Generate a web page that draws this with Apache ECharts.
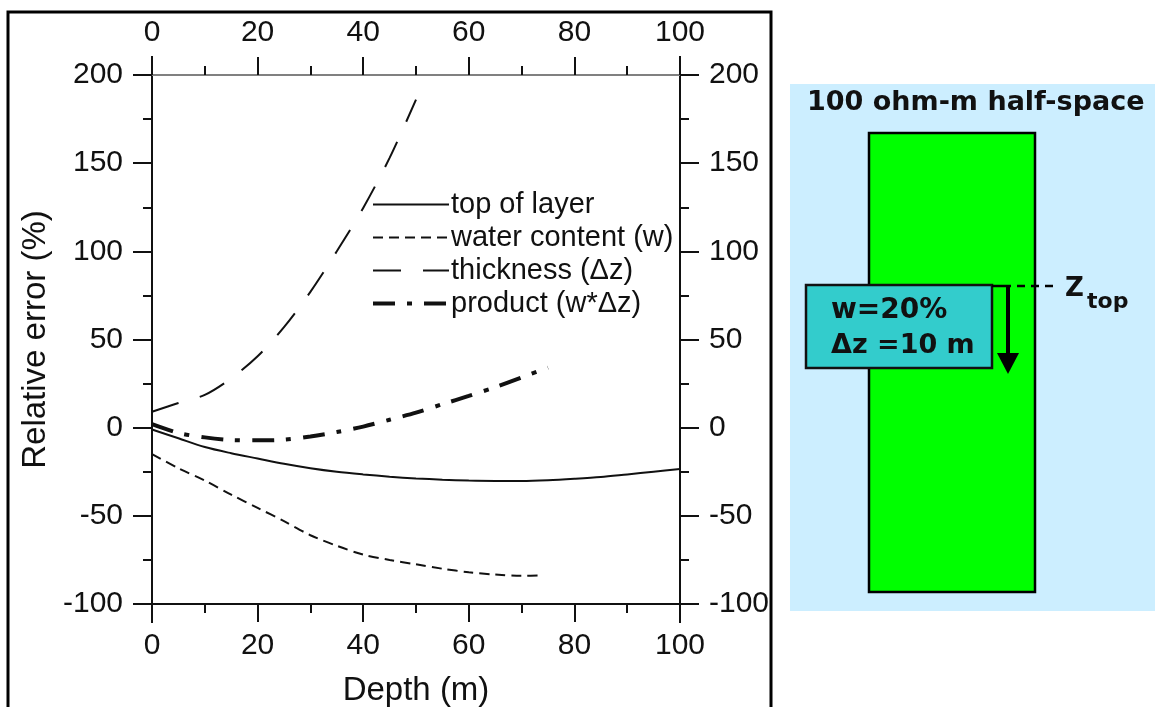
<!DOCTYPE html>
<html>
<head>
<meta charset="utf-8">
<script src="https://cdn.jsdelivr.net/npm/echarts@6/dist/echarts.min.js"></script>
<style>
html,body{margin:0;padding:0;background:#fff;}
#chart{width:1155px;height:707px;}
</style>
</head>
<body>
<div id="chart"></div>
<script>
// ---- data ----
const seriesNames = ['top of layer', 'water content (w)', 'thickness (\u0394z)', 'product (w*\u0394z)'];

const depthTop = [0, 5, 10, 15, 20, 25, 30, 35, 40, 45, 50, 55, 60, 65, 70, 75, 80, 85, 90, 95, 100];
const errTop   = [-1, -6, -11, -14.5, -17.5, -20.5, -23, -25, -26.5, -27.8, -28.8, -29.5, -30, -30.2, -30.2, -29.8, -29, -28, -26.5, -25, -23.5];

const depthWater = [0, 5, 10, 15, 20, 25, 30, 35, 40, 45, 50, 55, 60, 65, 70, 74];
const errWater   = [-15, -23, -30, -38, -45.5, -53, -61, -67, -72, -75, -77.5, -80, -82, -83.3, -84, -83.7];

const depthThick = [0, 5, 10, 15, 20, 25, 30, 35, 40, 45, 50];
const errThick   = [9, 14, 18.6, 28, 40.5, 57, 77, 100, 124.6, 153, 186];

const depthProd = [0, 5, 10, 15, 20, 25, 30, 35, 40, 45, 50, 55, 60, 65, 70, 75];
const errProd   = [2, -3, -5.5, -7, -7.2, -6.8, -5, -2.5, 0.6, 4.5, 8.5, 13.3, 18, 23, 28.5, 34];

const xTicks = {min: 0, max: 100, step: 20};
const yTicks = {min: -100, max: 200, step: 50};

// ---- chart ----
const zip = (xs, ys) => xs.map((x, i) => [x, ys[i]]);
const FONT = "'Liberation Sans', Arial, sans-serif";
const DIA = "'DejaVu Sans', Verdana, sans-serif";
const INK = '#111';

function xAxisCfg(pos) {
  return {
    type: 'value', position: pos, gridIndex: 0,
    min: xTicks.min, max: xTicks.max, interval: xTicks.step,
    axisLine: {show: true, onZero: false, lineStyle: {color: pos === 'top' ? '#808080' : INK, width: 2}},
    axisTick: {show: true, inside: false, length: 18, lineStyle: {color: INK, width: 2}},
    minorTick: {show: true, splitNumber: 2, length: 9, lineStyle: {color: INK, width: 2}},
    splitLine: {show: false},
    axisLabel: {fontSize: 30, color: INK, fontFamily: FONT, margin: 27},
    name: pos === 'bottom' ? 'Depth (m)' : '',
    nameLocation: 'middle', nameGap: 70,
    nameTextStyle: {fontSize: 33, color: INK, fontFamily: FONT}
  };
}
function yAxisCfg(pos) {
  return {
    type: 'value', position: pos, gridIndex: 0,
    min: yTicks.min, max: yTicks.max, interval: yTicks.step,
    axisLine: {show: true, onZero: false, lineStyle: {color: INK, width: 2}},
    axisTick: {show: true, inside: false, length: 19, lineStyle: {color: INK, width: 2}},
    minorTick: {show: true, splitNumber: 2, length: 9, lineStyle: {color: INK, width: 2}},
    splitLine: {show: false},
    axisLabel: {fontSize: 30, color: INK, fontFamily: FONT, margin: 29},
    name: pos === 'left' ? 'Relative error (%)' : '',
    nameLocation: 'middle', nameGap: 100,
    nameTextStyle: {fontSize: 33, color: INK, fontFamily: FONT}
  };
}

const lineStyles = [
  {color: INK, width: 2, type: 'solid'},
  {color: INK, width: 2, type: [10, 6]},
  {color: INK, width: 2, type: [28, 22]},
  {color: INK, width: 4, type: [22, 12, 5, 12]}
];
const datasets = [zip(depthTop, errTop), zip(depthWater, errWater), zip(depthThick, errThick), zip(depthProd, errProd)];

const chart = echarts.init(document.getElementById('chart'), null, {renderer: 'canvas'});

const option = {
  backgroundColor: '#fff',
  animation: false,
  grid: {left: 152, right: 475, top: 75, bottom: 103, containLabel: false, outerBoundsMode: 'none'},
  xAxis: [xAxisCfg('bottom'), xAxisCfg('top')],
  yAxis: [yAxisCfg('left'), yAxisCfg('right')],
  legend: {
    orient: 'vertical', left: 366, top: 185,
    itemWidth: 76, itemHeight: 14, itemGap: 4,
    selectedMode: false,
    itemStyle: {opacity: 0, color: 'transparent', borderWidth: 0},
    textStyle: {fontSize: 29, color: INK, fontFamily: FONT, padding: [0, 0, 0, -3]},
    data: seriesNames.map((n, i) => ({name: n, lineStyle: Object.assign({cap: 'butt'}, lineStyles[i]), itemStyle: {opacity: 0, color: 'transparent', borderWidth: 0}}))
  },
  series: seriesNames.map((n, i) => ({
    name: n, type: 'line', xAxisIndex: 0, yAxisIndex: 0,
    data: datasets[i], symbol: 'none', smooth: 0.3,
    lineStyle: Object.assign({cap: 'butt'}, lineStyles[i]),
    itemStyle: {color: INK}
  }))
};
chart.setOption(option);

// decorative axis-line extensions and the right-hand diagram
const p0 = chart.convertToPixel({gridIndex: 0}, [xTicks.min, yTicks.min]);
const p1 = chart.convertToPixel({gridIndex: 0}, [xTicks.max, yTicks.max]);
const ext = 19;
const gline = (x1, y1, x2, y2, color, w) => ({type: 'line', silent: true, shape: {x1, y1, x2, y2}, style: {stroke: color, lineWidth: w}});

chart.setOption({
  graphic: [
    // outer frame
    {type: 'rect', silent: true, shape: {x: 8, y: 12, width: 763, height: 720}, style: {fill: null, stroke: '#000', lineWidth: 3}},
    gline(p0[0] - ext, p1[1], p1[0] + ext, p1[1], '#808080', 2),
    gline(p0[0] - ext, p0[1], p1[0] + ext, p0[1], INK, 2),
    gline(p0[0], p1[1] - ext, p0[0], p0[1] + ext, INK, 2),
    gline(p1[0], p1[1] - ext, p1[0], p0[1] + ext, INK, 2),
    // diagram
    {type: 'rect', silent: true, shape: {x: 790, y: 84, width: 365, height: 527}, style: {fill: '#CCEEFF'}},
    {type: 'text', silent: true, x: 807, y: 103, style: {text: '100 ohm-m half-space', font: "bold 27px " + DIA, fill: '#111', verticalAlign: 'middle', align: 'left'}},
    {type: 'rect', silent: true, shape: {x: 869, y: 133, width: 166, height: 459}, style: {fill: '#00FF00', stroke: '#000', lineWidth: 2.5}},
    {type: 'rect', silent: true, shape: {x: 806, y: 285, width: 186, height: 83}, style: {fill: '#33CCCC', stroke: '#111', lineWidth: 2.5}},
    {type: 'text', silent: true, x: 831, y: 311, style: {text: 'w=20%', font: "bold 28px " + DIA, fill: '#111', verticalAlign: 'middle'}},
    {type: 'text', silent: true, x: 831, y: 346, style: {text: '\u0394z =10 m', font: "bold 27px " + DIA, fill: '#111', verticalAlign: 'middle'}},
    {type: 'line', silent: true, shape: {x1: 992, y1: 286, x2: 1003, y2: 286}, style: {stroke: '#000', lineWidth: 2.5}},
    {type: 'line', silent: true, shape: {x1: 1003, y1: 286, x2: 1053, y2: 286}, style: {stroke: '#000', lineWidth: 2.5, lineDash: [8, 6]}},
    {type: 'line', silent: true, shape: {x1: 1008, y1: 286, x2: 1008, y2: 356}, style: {stroke: '#000', lineWidth: 4}},
    {type: 'polygon', silent: true, shape: {points: [[997, 353], [1019, 353], [1008, 374]]}, style: {fill: '#000'}},
    {type: 'text', silent: true, x: 1065, y: 289, style: {text: 'Z', font: "bold 26px " + DIA, fill: '#111', verticalAlign: 'middle'}},
    {type: 'text', silent: true, x: 1087, y: 302, style: {text: 'top', font: "bold 22px " + DIA, fill: '#111', verticalAlign: 'middle'}}
  ]
});
</script>
</body>
</html>
